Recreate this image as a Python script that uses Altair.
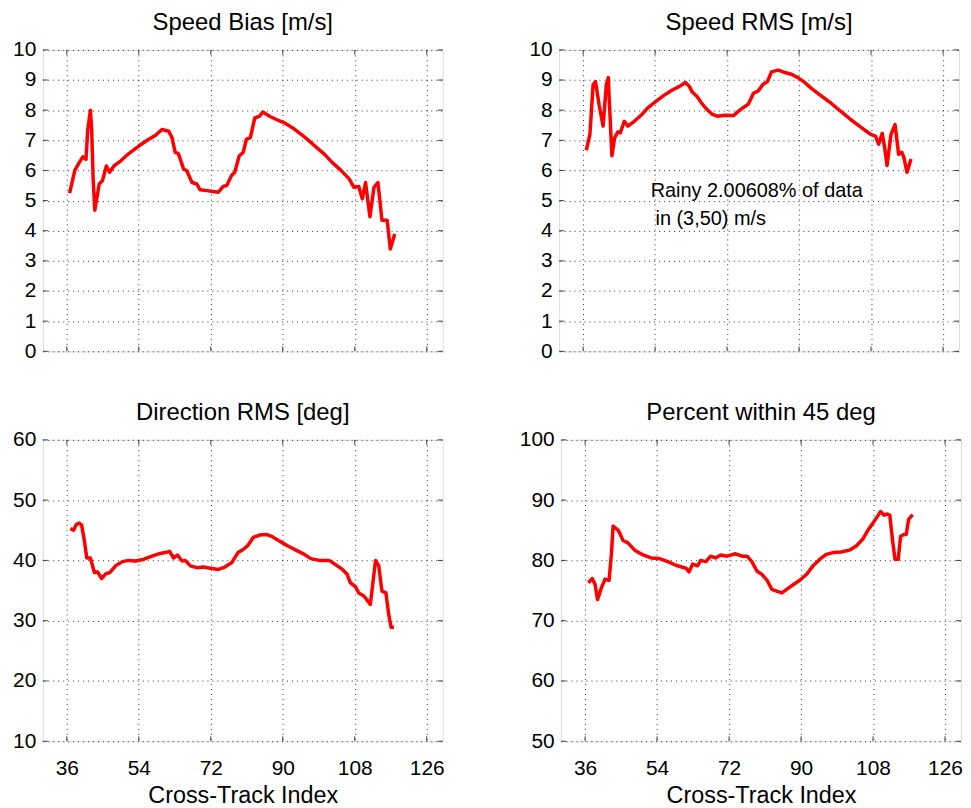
import altair as alt
import pandas as pd

FONT = "Liberation Sans"
X_TICKS = [36, 54, 72, 90, 108, 126]
X_DOMAIN = [30, 130]
W, H = 402, 303

# ---- Speed Bias [m/s]
bias_x = [36.7, 38.0, 39.1, 40.0, 40.8, 41.2, 41.9, 42.2, 42.6, 43.0, 44.1, 44.9, 45.9, 46.7, 47.8,
          49.5, 51.5, 54.0, 56.1, 58.2, 59.8, 61.5, 62.3, 63.1, 63.9, 65.2, 66.0, 67.3, 68.5, 69.3,
          71.0, 73.9, 75.1, 76.0, 77.2, 78.0, 79.1, 80.1, 80.9, 81.9, 83.0, 84.2, 85.0, 86.7, 88.4,
          90.4, 92.5, 94.6, 96.6, 98.3, 100.4, 102.4, 104.5, 106.6, 107.8, 109.0, 109.9, 110.7,
          111.8, 112.8, 113.8, 114.8, 116.1, 116.9, 118.0]
bias_y = [5.25, 6.0, 6.26, 6.45, 6.37, 7.3, 8.0, 7.4, 5.66, 4.68, 5.55, 5.66, 6.15, 5.94, 6.15,
          6.32, 6.56, 6.81, 7.0, 7.17, 7.36, 7.3, 7.09, 6.6, 6.56, 6.05, 5.99, 5.6, 5.55, 5.36,
          5.33, 5.28, 5.47, 5.5, 5.83, 5.94, 6.48, 6.6, 7.03, 7.09, 7.74, 7.8, 7.94, 7.8, 7.69,
          7.58, 7.41, 7.2, 6.98, 6.78, 6.54, 6.26, 6.01, 5.72, 5.44, 5.47, 5.06, 5.6,
          4.46, 5.44, 5.6, 4.35, 4.35, 3.39, 3.89]

# ---- Speed RMS [m/s]
rms_x = [36.8, 37.7, 38.5, 39.1, 40.0, 41.0, 41.8, 42.3, 42.6, 43.2, 43.9, 44.7, 45.3, 46.3, 47.2,
         48.8, 50.5, 52.1, 54.2, 56.2, 58.3, 60.0, 61.6, 62.6, 63.3, 64.5, 65.8, 67.0, 68.2, 69.5,
         71.5, 73.6, 74.8, 76.1, 77.3, 78.6, 79.8, 81.0, 82.1, 83.1, 84.8, 86.4, 88.1, 89.7, 91.4,
         93.0, 94.7, 96.3, 98.0, 99.6, 101.3, 102.9, 104.6, 106.2, 107.9, 109.1, 109.9, 110.8,
         111.4, 112.0, 113.0, 114.0, 114.9, 115.7, 116.2, 117.0, 118.0]
rms_y = [6.67, 7.2, 8.84, 8.95, 8.18, 7.47, 8.84, 9.08, 8.18, 6.49, 7.09, 7.28, 7.25, 7.63, 7.47,
         7.63, 7.83, 8.07, 8.29, 8.49, 8.67, 8.78, 8.92, 8.78, 8.6, 8.45, 8.2, 8.02, 7.87, 7.8,
         7.83, 7.82, 7.96, 8.09, 8.2, 8.56, 8.64, 8.86, 8.95, 9.27, 9.33, 9.25, 9.19, 9.08, 8.92,
         8.73, 8.56, 8.4, 8.23, 8.05, 7.87, 7.69, 7.52, 7.36, 7.2, 7.14, 6.87, 7.23,
         6.76, 6.16, 7.2, 7.52, 6.54, 6.6, 6.43, 5.94, 6.38]

note_text = ["Rainy 2.00608% of data", "in (3,50) m/s"]
note_x = [52.9, 54.1]
note_y = [5.31, 4.39]

# ---- Direction RMS [deg]
dir_x = [36.9, 37.7, 38.3, 39.1, 39.7, 40.4, 41.0, 41.9, 42.9, 43.7, 44.7, 45.8, 46.8, 48.2, 49.9,
         51.5, 53.2, 55.3, 57.3, 59.0, 60.6, 61.7, 62.7, 63.7, 64.8, 65.6, 66.9, 68.5, 70.2, 71.8,
         73.9, 75.5, 77.2, 78.8, 80.1, 81.3, 82.6, 84.2, 85.9, 87.5, 89.2, 91.3, 93.3, 95.4, 97.0,
         99.1, 101.6, 103.2, 104.9, 106.1, 106.9, 108.2, 109.0, 110.3, 111.9, 112.6, 113.2,
         114.0, 114.8, 115.8, 116.5, 117.1, 117.8]
dir_y = [45.3, 45.0, 45.9, 46.2, 45.9, 43.2, 40.4, 40.4, 38.0, 38.1, 37.0, 37.8, 38.0, 39.1, 39.8,
         40.0, 39.9, 40.2, 40.7, 41.1, 41.3, 41.5, 40.4, 40.9, 39.9, 40.0, 39.1, 38.8, 38.9, 38.7,
         38.5, 38.9, 39.6, 41.3, 41.8, 42.5, 43.8, 44.2, 44.3, 43.9, 43.2, 42.4, 41.7, 41.0, 40.3,
         40.0, 40.0, 39.3, 38.5, 37.7, 36.3, 35.6, 34.6, 34.1, 32.7, 36.6, 40.0,
         39.1, 34.9, 34.6, 31.0, 28.9, 28.9]

# ---- Percent within 45 deg
pct_x = [36.8, 37.8, 38.5, 39.1, 40.1, 41.0, 42.0, 42.6, 43.0, 44.3, 45.5, 46.7, 48.4, 50.5, 52.5,
         54.6, 56.7, 58.7, 61.2, 62.0, 62.9, 64.1, 64.9, 66.2, 67.4, 68.6, 69.9, 71.5, 73.6, 75.3,
         76.5, 77.7, 79.0, 80.2, 81.5, 82.7, 83.9, 85.2, 86.4, 88.1, 89.7, 91.4, 93.0, 94.7, 96.3,
         98.0, 100.0, 102.1, 103.8, 105.4, 106.7, 107.9, 109.1, 109.9, 110.8, 111.6, 112.2,
         112.9, 113.5, 114.3, 114.9, 115.7, 116.3, 116.9, 117.9]
pct_y = [76.3, 77.0, 76.0, 73.5, 75.5, 76.9, 76.7, 81.3, 85.7, 85.0, 83.3, 82.9, 81.7, 80.9, 80.4,
         80.3, 79.8, 79.2, 78.7, 78.1, 79.4, 79.1, 80.0, 79.8, 80.7, 80.4, 80.9, 80.7, 81.1, 80.7,
         80.7, 79.8, 78.2, 77.7, 76.7, 75.2, 74.9, 74.6, 75.2, 76.0, 76.7, 77.7, 79.1, 80.2, 81.0,
         81.3, 81.4, 81.7, 82.4, 83.5, 85.0, 86.1, 87.3, 88.1, 87.5, 87.7, 87.5,
         83.2, 80.2, 80.2, 84.0, 84.3, 84.3, 86.8, 87.6]

FRAME = "#404040"
GRID = "#1a1a1a"


def panel(xs, ys, title, ydom, yticks, show_x, note=None):
    xscale = alt.Scale(domain=X_DOMAIN, nice=False, zero=False)
    yscale = alt.Scale(domain=ydom, nice=False, zero=False)
    xaxis = alt.Axis(
        values=X_TICKS, grid=True, ticks=False, tickSize=0, domain=False,
        labels=show_x, labelPadding=16, labelFontSize=21, labelFont=FONT,
        labelColor="#000", titleFont=FONT, titleFontSize=23.5, titleFontWeight="normal",
        titleColor="#000", titlePadding=6,
        gridDash=[1, 4], gridColor=GRID, gridOpacity=0.9, gridWidth=1,
    )
    yaxis = alt.Axis(
        values=yticks, grid=True, ticks=False, tickSize=0, domain=False,
        labelPadding=7, labelFontSize=21, labelFont=FONT, labelColor="#000",
        labelBaseline="middle",
        gridDash=[1, 4], gridColor=GRID, gridOpacity=0.9, gridWidth=1,
    )
    xtitle = "Cross-Track Index" if show_x else None

    def X(field):
        return alt.X(field, type="quantitative", scale=xscale, axis=xaxis, title=xtitle)

    def Y(field):
        return alt.Y(field, type="quantitative", scale=yscale, axis=yaxis, title=None)

    df = pd.DataFrame({"x": xs, "y": ys})
    line = alt.Chart(df).mark_line(color="#ff0000", strokeWidth=3.5,
                                   strokeJoin="round").encode(x=X("x"), y=Y("y"))
    xt = pd.DataFrame({"x": X_TICKS})
    yt = pd.DataFrame({"y": yticks})
    tl = 5
    tb = alt.Chart(xt).mark_rule(color=FRAME, strokeWidth=1).encode(
        x=X("x"), y=alt.value(H), y2=alt.value(H - tl))
    tt = alt.Chart(xt).mark_rule(color=FRAME, strokeWidth=1).encode(
        x=X("x"), y=alt.value(0), y2=alt.value(tl))
    tlft = alt.Chart(yt).mark_rule(color=FRAME, strokeWidth=1).encode(
        y=Y("y"), x=alt.value(0), x2=alt.value(tl))
    trgt = alt.Chart(yt).mark_rule(color=FRAME, strokeWidth=1).encode(
        y=Y("y"), x=alt.value(W), x2=alt.value(W - tl))
    layers = [line, tb, tt, tlft, trgt]
    if note is not None:
        ndf = pd.DataFrame({"x": note[0], "y": note[1], "t": note[2]})
        txt = alt.Chart(ndf).mark_text(align="left", baseline="middle", fontSize=20,
                                       font=FONT, color="#000").encode(
            x=X("x"), y=Y("y"), text="t:N")
        layers.append(txt)
    return alt.layer(*layers).properties(
        width=W, height=H,
        title=alt.TitleParams(title, fontSize=24, font=FONT, fontWeight="normal",
                              color="#000", anchor="middle", frame="group", offset=4),
    )


p1 = panel(bias_x, bias_y, "Speed Bias [m/s]", [0, 10], list(range(0, 11)), False)
p2 = panel(rms_x, rms_y, "Speed RMS [m/s]", [0, 10], list(range(0, 11)), False,
           note=(note_x, note_y, note_text))
p3 = panel(dir_x, dir_y, "Direction RMS [deg]", [10, 60], [10, 20, 30, 40, 50, 60], True)
p4 = panel(pct_x, pct_y, "Percent within 45 deg", [50, 100], [50, 60, 70, 80, 90, 100], True)

row1 = alt.hconcat(p1, p2, spacing=85)
row2 = alt.hconcat(p3, p4, spacing=74)

chart = alt.vconcat(row1, row2, spacing=38).properties(
    padding={"left": 4, "top": 0, "right": 0, "bottom": 0}
).configure_view(
    stroke=FRAME, strokeWidth=1.5
).configure(background="white")

chart.save("out.html", embed_options={"renderer": "svg", "actions": False})
